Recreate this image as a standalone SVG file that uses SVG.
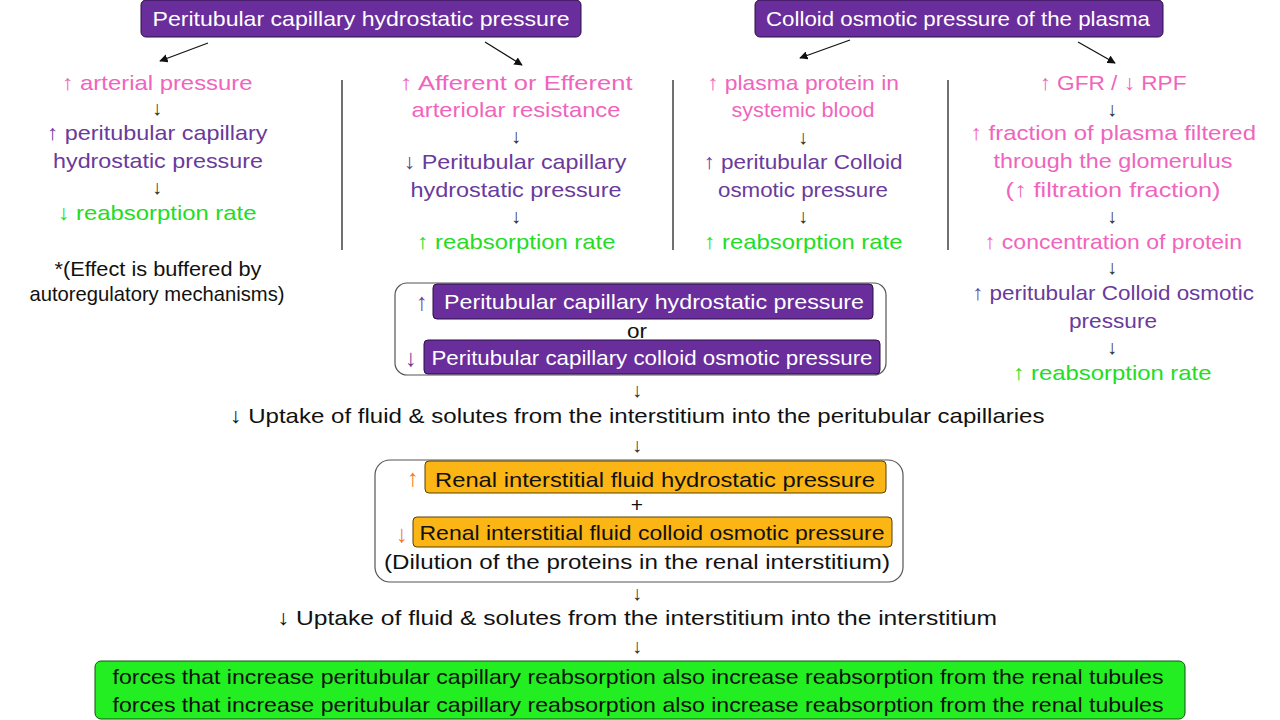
<svg xmlns="http://www.w3.org/2000/svg" width="1280" height="720" viewBox="0 0 1280 720">
<style>
text{font-family:"Liberation Sans","DejaVu Sans",sans-serif;font-size:21px;text-anchor:middle;dominant-baseline:central}
.w{fill:#ffffff}
.k{fill:#111111}
.p{fill:#f064bd}
.v{fill:#6a3a9c}
.g{fill:#22dd22}
.o{fill:#f07a20}
.s{font-size:20px;fill:#333333}
.big{font-size:24px}
.pb{fill:#6a2d9c;stroke:#2a1040;stroke-width:1}
.ob{fill:#fbb514;stroke:#5a4000;stroke-width:1}
.gb{fill:#22ee22;stroke:#105010;stroke-width:1}
.frame{fill:#ffffff;stroke:#555555;stroke-width:1.2}
.ln{stroke:#111111;stroke-width:1.2;fill:none}
.ar{stroke:#111111;stroke-width:1.2;fill:none;marker-end:url(#ah)}
</style>
<defs>
<marker id="ah" viewBox="0 0 10 10" refX="9" refY="5" markerWidth="7" markerHeight="7" orient="auto">
<path d="M0,0 L10,5 L0,10 z" fill="#111111"/>
</marker>
</defs>
<rect width="1280" height="720" fill="#ffffff"/>

<g id="connectors">
<line class="ar" x1="208" y1="43" x2="160" y2="61"/>
<line class="ar" x1="485" y1="42" x2="522" y2="65"/>
<line class="ar" x1="850" y1="40" x2="800" y2="58"/>
<line class="ar" x1="1078" y1="42" x2="1115" y2="63"/>
<line class="ln" x1="342" y1="80" x2="342" y2="250"/>
<line class="ln" x1="673" y1="80" x2="673" y2="250"/>
<line class="ln" x1="948" y1="80" x2="948" y2="250"/>
</g>

<g id="title-hydrostatic">
<rect class="pb" x="141" y="0" width="440" height="37" rx="5"/>
<text class="w" x="361" y="18" textLength="417" lengthAdjust="spacingAndGlyphs">Peritubular capillary hydrostatic pressure</text>
</g>
<g id="title-colloid">
<rect class="pb" x="755" y="0" width="408" height="37" rx="5"/>
<text class="w" x="958" y="18" textLength="384" lengthAdjust="spacingAndGlyphs">Colloid osmotic pressure of the plasma</text>
</g>

<g id="col1">
<text class="p" x="157" y="82" textLength="191" lengthAdjust="spacingAndGlyphs">↑ arterial pressure</text>
<text class="s" x="157" y="108">↓</text>
<text class="v" x="157" y="132" textLength="221" lengthAdjust="spacingAndGlyphs">↑ peritubular capillary</text>
<text class="v" x="158" y="160" textLength="210" lengthAdjust="spacingAndGlyphs">hydrostatic pressure</text>
<text class="s" x="157" y="187">↓</text>
<text class="g" x="157" y="212" textLength="199" lengthAdjust="spacingAndGlyphs">↓ reabsorption rate</text>
<text class="k" x="158" y="268" textLength="207" lengthAdjust="spacingAndGlyphs">*(Effect is buffered by</text>
<text class="k" x="157" y="293" textLength="255" lengthAdjust="spacingAndGlyphs">autoregulatory mechanisms)</text>
</g>

<g id="col2">
<text class="p" x="516" y="82" textLength="233" lengthAdjust="spacingAndGlyphs">↑ Afferent or Efferent</text>
<text class="p" x="516" y="109" textLength="209" lengthAdjust="spacingAndGlyphs">arteriolar resistance</text>
<text class="s" x="516" y="136">↓</text>
<text class="v" x="515" y="161" textLength="223" lengthAdjust="spacingAndGlyphs">↓ Peritubular capillary</text>
<text class="v" x="516" y="189" textLength="211" lengthAdjust="spacingAndGlyphs">hydrostatic pressure</text>
<text class="s" x="516" y="216">↓</text>
<text class="g" x="516" y="241" textLength="199" lengthAdjust="spacingAndGlyphs">↑ reabsorption rate</text>
</g>

<g id="col3">
<text class="p" x="803" y="82" textLength="192" lengthAdjust="spacingAndGlyphs">↑ plasma protein in</text>
<text class="p" x="803" y="109" textLength="143" lengthAdjust="spacingAndGlyphs">systemic blood</text>
<text class="s" x="803" y="137">↓</text>
<text class="v" x="803" y="161" textLength="199" lengthAdjust="spacingAndGlyphs">↑ peritubular Colloid</text>
<text class="v" x="803" y="189" textLength="170" lengthAdjust="spacingAndGlyphs">osmotic pressure</text>
<text class="s" x="803" y="216">↓</text>
<text class="g" x="803" y="241" textLength="199" lengthAdjust="spacingAndGlyphs">↑ reabsorption rate</text>
</g>

<g id="col4">
<text class="p" x="1113" y="82" textLength="147" lengthAdjust="spacingAndGlyphs">↑ GFR / ↓ RPF</text>
<text class="s" x="1112" y="109">↓</text>
<text class="p" x="1113" y="132" textLength="286" lengthAdjust="spacingAndGlyphs">↑ fraction of plasma filtered</text>
<text class="p" x="1113" y="160" textLength="239" lengthAdjust="spacingAndGlyphs">through the glomerulus</text>
<text class="p" x="1113" y="189" textLength="215" lengthAdjust="spacingAndGlyphs">(↑ filtration fraction)</text>
<text class="s" x="1112" y="216">↓</text>
<text class="p" x="1113" y="241" textLength="258" lengthAdjust="spacingAndGlyphs">↑ concentration of protein</text>
<text class="s" x="1112" y="267">↓</text>
<text class="v" x="1113" y="292" textLength="282" lengthAdjust="spacingAndGlyphs">↑ peritubular Colloid osmotic</text>
<text class="v" x="1113" y="320" textLength="88" lengthAdjust="spacingAndGlyphs">pressure</text>
<text class="s" x="1112" y="347">↓</text>
<text class="g" x="1112" y="372" textLength="199" lengthAdjust="spacingAndGlyphs">↑ reabsorption rate</text>
</g>

<g id="capillary-box">
<rect class="frame" x="395" y="283" width="491" height="92" rx="12"/>
<rect class="pb" x="433" y="284" width="440" height="35" rx="4"/>
<text class="v big" x="422" y="301">↑</text>
<text class="w" x="654" y="301" textLength="420" lengthAdjust="spacingAndGlyphs">Peritubular capillary hydrostatic pressure</text>
<text class="k" x="637" y="330" textLength="20" lengthAdjust="spacingAndGlyphs">or</text>
<rect class="pb" x="424" y="340" width="456" height="34" rx="4"/>
<text class="v big" x="411" y="357">↓</text>
<text class="w" x="652" y="357" textLength="441" lengthAdjust="spacingAndGlyphs">Peritubular capillary colloid osmotic pressure</text>
</g>

<g id="uptake1">
<text class="s" x="637" y="390">↓</text>
<text class="k" x="637" y="415" textLength="815" lengthAdjust="spacingAndGlyphs">↓ Uptake of fluid &amp; solutes from the interstitium into the peritubular capillaries</text>
<text class="s" x="637" y="445">↓</text>
</g>

<g id="renal-box">
<rect class="frame" x="375" y="460" width="528" height="122" rx="15"/>
<rect class="ob" x="425" y="461" width="461" height="32" rx="4"/>
<text class="o big" x="413" y="477">↑</text>
<text class="k" x="655" y="479" textLength="440" lengthAdjust="spacingAndGlyphs">Renal interstitial fluid hydrostatic pressure</text>
<text class="k" x="637" y="504">+</text>
<rect class="ob" x="413" y="517" width="479" height="30" rx="4"/>
<text class="o big" x="402" y="533">↓</text>
<text class="k" x="652" y="532" textLength="465" lengthAdjust="spacingAndGlyphs">Renal interstitial fluid colloid osmotic pressure</text>
<text class="k" x="637" y="561" textLength="506" lengthAdjust="spacingAndGlyphs">(Dilution of the proteins in the renal interstitium)</text>
</g>

<g id="uptake2">
<text class="s" x="637" y="593">↓</text>
<text class="k" x="637" y="617" textLength="720" lengthAdjust="spacingAndGlyphs">↓ Uptake of fluid &amp; solutes from the interstitium into the interstitium</text>
<text class="s" x="637" y="646">↓</text>
</g>

<g id="conclusion">
<rect class="gb" x="95" y="661" width="1090" height="58" rx="6"/>
<text class="k" x="638" y="676" textLength="1051" lengthAdjust="spacingAndGlyphs">forces that increase peritubular capillary reabsorption also increase reabsorption from the renal tubules</text>
<text class="k" x="638" y="704" textLength="1051" lengthAdjust="spacingAndGlyphs">forces that increase peritubular capillary reabsorption also increase reabsorption from the renal tubules</text>
</g>
</svg>
